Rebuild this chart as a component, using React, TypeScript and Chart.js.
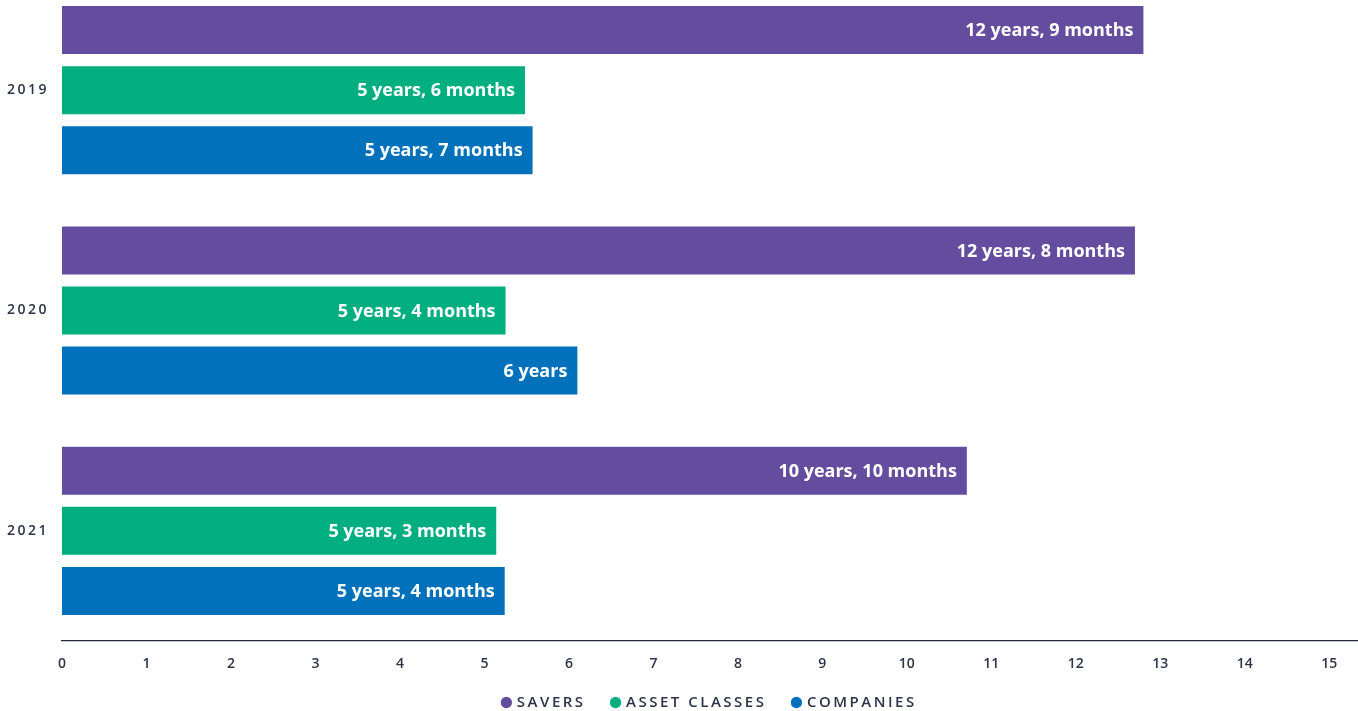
import React, { useEffect, useRef } from "react";
import { Chart, registerables } from "chart.js";

Chart.register(...registerables);

// ---- data ----
const CATEGORIES = ["2019", "2020", "2021"];
const SERIES_NAMES = ["SAVERS", "ASSET CLASSES", "COMPANIES"];
const SAVERS = [12.8, 12.7, 10.71];
const ASSET_CLASSES = [5.48, 5.25, 5.14];
const COMPANIES = [5.57, 6.1, 5.24];
const SAVERS_TEXT = ["12 years, 9 months", "12 years, 8 months", "10 years, 10 months"];
const ASSET_CLASSES_TEXT = ["5 years, 6 months", "5 years, 4 months", "5 years, 3 months"];
const COMPANIES_TEXT = ["5 years, 7 months", "6 years", "5 years, 4 months"];
const X_TICKS = [0, 1, 2, 3, 4, 5, 6, 7, 8, 9, 10, 11, 12, 13, 14, 15];
const X_MAX = 15.34;

// ---- style ----
const COLORS = ["#644C9E", "#00AE80", "#0071BA"];
const TEXT_COLOR = "#2B3448";
const FONT = "'Open Sans', 'Noto Sans', sans-serif";

function wrapSpacing(obj: any, name: string, spacing: string) {
  if (!obj || obj["__ls_" + name]) return;
  const orig = obj[name];
  obj[name] = function (...args: any[]) {
    const ctx = this.ctx as any;
    const prev = ctx.letterSpacing;
    ctx.letterSpacing = spacing;
    try {
      return orig.apply(this, args);
    } finally {
      ctx.letterSpacing = prev;
    }
  };
  obj["__ls_" + name] = true;
}

const spacingPlugin = {
  id: "letterSpacingPatch",
  beforeLayout(chart: any) {
    wrapSpacing(chart.legend, "fit", "2.5px");
    wrapSpacing(chart.legend, "draw", "2.5px");
    wrapSpacing(chart.scales.y, "drawLabels", "2.5px");
  },
};

const valueLabelPlugin = {
  id: "valueLabels",
  afterDatasetsDraw(chart: any) {
    const ctx = chart.ctx;
    ctx.save();
    ctx.font = `700 18px ${FONT}`;
    ctx.fillStyle = "#FFFFFF";
    ctx.textAlign = "right";
    ctx.textBaseline = "middle";
    chart.data.datasets.forEach((ds: any, i: number) => {
      const meta = chart.getDatasetMeta(i);
      meta.data.forEach((el: any, j: number) => {
        ctx.fillText(ds.valueText[j], el.x - 10, el.y + 1);
      });
    });
    ctx.restore();
  },
};

export default function App() {
  const canvasRef = useRef<HTMLCanvasElement | null>(null);

  useEffect(() => {
    if (!canvasRef.current) return;
    const values = [SAVERS, ASSET_CLASSES, COMPANIES];
    const texts = [SAVERS_TEXT, ASSET_CLASSES_TEXT, COMPANIES_TEXT];
    const chart = new Chart(canvasRef.current, {
      type: "bar",
      data: {
        labels: CATEGORIES,
        datasets: SERIES_NAMES.map((name, i) => ({
          label: name,
          data: values[i],
          valueText: texts[i],
          backgroundColor: COLORS[i],
          borderWidth: 0,
          categoryPercentage: 0.818,
          barPercentage: 0.8,
        })) as any,
      },
      options: {
        indexAxis: "y",
        animation: false,
        responsive: false,
        events: [],
        layout: { padding: 0 },
        scales: {
          x: {
            type: "linear",
            min: 0,
            max: X_MAX,
            afterBuildTicks: (scale: any) => {
              scale.ticks = X_TICKS.map((v) => ({ value: v }));
            },
            afterFit: (scale: any) => {
              scale.height = 27;
              scale.paddingLeft = 0;
              scale.paddingRight = 0;
            },
            grid: { display: false, drawTicks: false },
            border: { display: true, color: "#1E293B", width: 1.2 },
            ticks: {
              padding: 15,
              color: TEXT_COLOR,
              font: { family: FONT, size: 14, weight: 600 as any },
              maxRotation: 0,
              autoSkip: false,
              callback: (v: any) => String(v),
            },
          },
          y: {
            type: "category",
            afterFit: (scale: any) => {
              scale.width = 62;
              scale.paddingTop = 0;
              scale.paddingBottom = 0;
            },
            grid: { display: false, drawTicks: false },
            border: { display: false },
            ticks: {
              padding: 13,
              color: TEXT_COLOR,
              font: { family: FONT, size: 14, weight: 600 as any },
            },
          },
        },
        plugins: {
          tooltip: { enabled: false },
          title: { display: false },
          legend: {
            display: true,
            position: "bottom",
            fullSize: false,
            labels: {
              usePointStyle: true,
              pointStyle: "circle",
              boxWidth: 6,
              boxHeight: 8,
              padding: 27,
              color: TEXT_COLOR,
              font: { family: FONT, size: 15, weight: 600 as any },
            },
          },
        },
      },
      plugins: [spacingPlugin, valueLabelPlugin],
    } as any);
    return () => chart.destroy();
  }, []);

  return (
    <div style={{ position: "fixed", left: 0, top: -20, width: 1358, height: 740, background: "#fff" }}>
      <canvas ref={canvasRef} width={1358} height={740} style={{ display: "block" }} />
    </div>
  );
}
